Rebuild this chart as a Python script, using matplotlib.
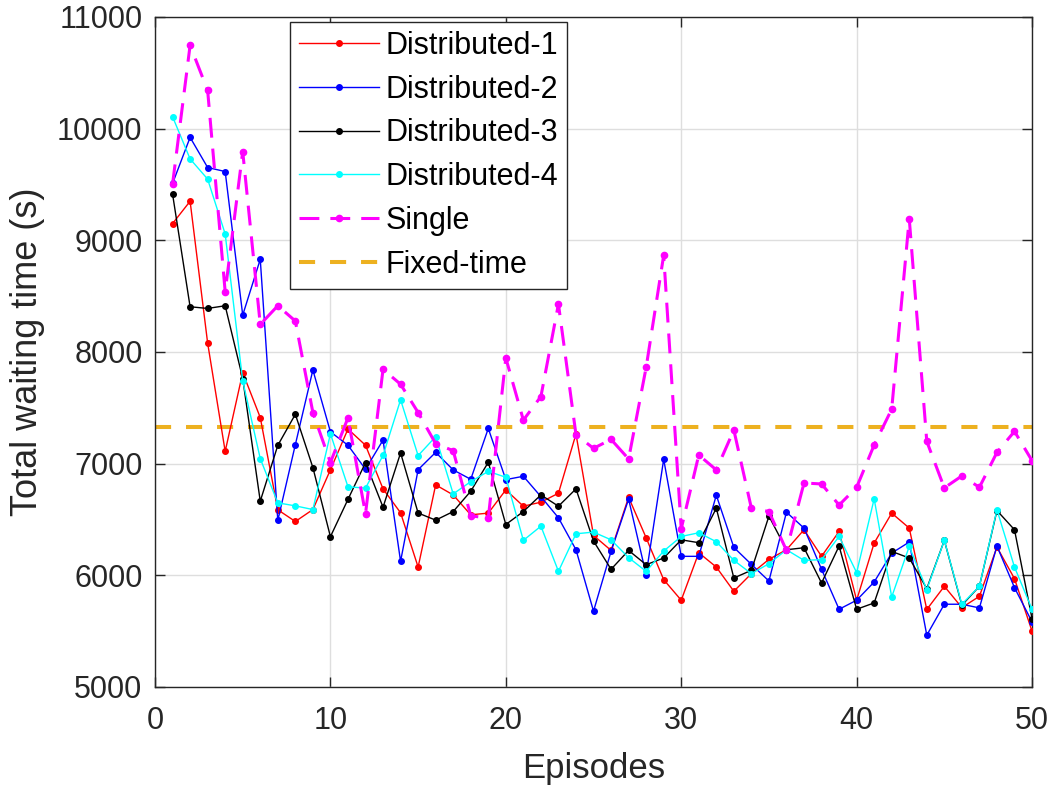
import numpy as np
import matplotlib
matplotlib.use("Agg")
import matplotlib.pyplot as plt

plt.rcParams['font.family'] = ['Liberation Sans', 'DejaVu Sans']

episodes = list(range(1, 51))

distributed_1 = [9150, 9350, 8080, 7110, 7815, 7413, 6587, 6482, 6589, 6945,
                 7310, 7165, 6774, 6560, 6074, 6810, 6720, 6542, 6557, 6765,
                 6619, 6655, 6735, 7265, 6357, 6223, 6699, 6336, 5961, 5777,
                 6202, 6074, 5857, 6015, 6143, 6229, 6408, 6170, 6393, 5777,
                 6289, 6557, 6423, 5694, 5902, 5711, 5812, 6253, 5970, 5500]

distributed_2 = [9509, 9922, 9652, 9616, 8330, 8830, 6491, 7170, 7839, 7285,
                 7165, 6950, 7211, 6125, 6946, 7101, 6944, 6860, 7315, 6857,
                 6887, 6705, 6515, 6229, 5679, 6214, 6682, 6006, 7039, 6170,
                 6170, 6717, 6250, 6098, 5949, 6565, 6423, 6054, 5696, 5777,
                 5940, 6199, 6298, 5464, 5741, 5741, 5708, 6262, 5890, 5583]

distributed_3 = [9414, 8405, 8390, 8414, 7762, 6664, 7164, 7442, 6965, 6346,
                 6680, 7009, 6610, 7096, 6558, 6494, 6571, 6753, 7012, 6455,
                 6571, 6720, 6619, 6774, 6307, 6054, 6223, 6095, 6155, 6318,
                 6292, 6601, 5976, 6045, 6530, 6229, 6247, 5931, 6262, 5696,
                 5753, 6214, 6155, 5881, 6313, 5732, 5902, 6580, 6408, 5613]

distributed_4 = [10107, 9729, 9548, 9057, 7741, 7045, 6649, 6622, 6589, 7268,
                 6793, 6781, 7074, 7572, 7072, 7242, 6729, 6839, 6931, 6878,
                 6313, 6440, 6036, 6372, 6387, 6318, 6158, 6036, 6217, 6348,
                 6381, 6301, 6134, 6015, 6104, 6229, 6134, 6140, 6348, 6024,
                 6685, 5806, 6259, 5872, 6313, 5741, 5902, 6587, 6074, 5696]

single = [9503, 10747, 10342, 8539, 9795, 8247, 8414, 8277, 7458, 7010,
          7410, 6551, 7845, 7711, 7458, 7179, 7116, 6533, 6512, 7946,
          7390, 7601, 8429, 7259, 7137, 7217, 7042, 7862, 8866, 6417,
          7077, 6944, 7301, 6601, 6571, 6223, 6827, 6818, 6629, 6788,
          7167, 7488, 9194, 7199, 6783, 6890, 6788, 7101, 7289, 7027]

fixed_time = 7325

x_ticks = [0, 10, 20, 30, 40, 50]
y_ticks = [5000, 6000, 7000, 8000, 9000, 10000, 11000]

text_color = '#262626'

fig = plt.figure(figsize=(10.56, 7.9), dpi=100)
ax = fig.add_axes([0.1468, 0.1304, 0.8305, 0.8481])

ax.plot(episodes, distributed_1, color='#FF0000', lw=1.0, marker='o', ms=4,
        label='Distributed-1', zorder=3)
ax.plot(episodes, distributed_2, color='#0000FF', lw=1.0, marker='o', ms=4,
        label='Distributed-2', zorder=3)
ax.plot(episodes, distributed_3, color='#000000', lw=1.0, marker='o', ms=4,
        label='Distributed-3', zorder=3)
ax.plot(episodes, distributed_4, color='#00FFFF', lw=1.0, marker='o', ms=4,
        label='Distributed-4', zorder=3)
ax.plot(episodes, single, color='#FF00FF', lw=2.2, marker='o', ms=4.5,
        dashes=(6.5, 3.6), label='Single', zorder=3)
ax.plot([0, 50], [fixed_time, fixed_time], color='#EDB120', lw=2.9,
        dashes=(4.0, 3.7), label='Fixed-time', zorder=2)

ax.set_xlim(0, 50)
ax.set_ylim(5000, 11000)
ax.set_xticks(x_ticks)
ax.set_yticks(y_ticks)
ax.grid(True, color='#dedede', lw=1.0, zorder=0)
ax.set_axisbelow(True)

ax.tick_params(direction='in', top=True, right=True, length=7, width=1.0,
               colors=text_color, labelsize=22)
ax.tick_params(axis='y', pad=9)
ax.tick_params(axis='x', pad=14)
for s in ax.spines.values():
    s.set_color(text_color)
    s.set_linewidth(1.0)

ax.set_xlabel('Episodes', fontsize=25, color=text_color, labelpad=11)
ax.set_ylabel('Total waiting time (s)', fontsize=26, color=text_color, labelpad=9)

leg = ax.legend(loc='upper left', bbox_to_anchor=(0.154, 0.993), fontsize=22,
                handlelength=2.6, handletextpad=0.22, labelspacing=0.45,
                borderpad=0.3, borderaxespad=0.0, fancybox=False, framealpha=1.0,
                edgecolor=text_color)
leg.get_frame().set_linewidth(1.0)
for t in leg.get_texts():
    t.set_color('#000000')

fig.savefig('out.png', dpi=100)
